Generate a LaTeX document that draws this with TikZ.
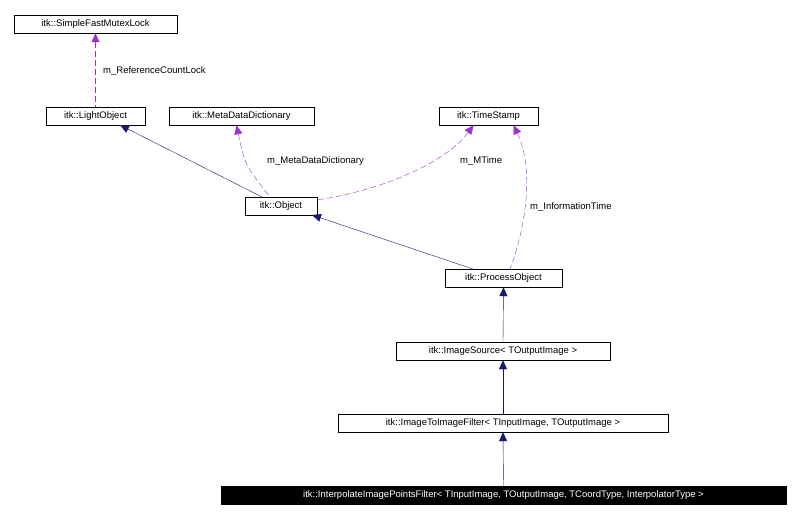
\documentclass[tikz,border=0pt]{standalone}
\usepackage{fontspec}
\setmainfont{Liberation Sans}
\usetikzlibrary{arrows.meta}
\definecolor{navy}{RGB}{25,25,112}
\definecolor{purp}{RGB}{153,50,204}
\begin{document}
\begin{tikzpicture}[x=1pt,y=-1pt,
  box/.style={draw,fill=white,inner sep=0pt,minimum height=18pt,font=\fontsize{9.5}{11}\selectfont},
  inh/.style={navy,{Triangle[open,length=9pt,width=8pt,fill=navy]}-},
  use/.style={purp,dash pattern=on 6pt off 3pt,{Triangle[length=9pt,width=8pt]}-},
  lbl/.style={font=\fontsize{9.5}{11}\selectfont,anchor=west,inner sep=0pt}]
\useasboundingbox (0,0) rectangle (800,518);
\node[box,minimum width=163pt] (mut) at (95.5,24) {itk::SimpleFastMutexLock};
\node[box,minimum width=99pt] (lo) at (95.5,116) {itk::LightObject};
\node[box,minimum width=145pt] (md) at (241.5,116) {itk::MetaDataDictionary};
\node[box,minimum width=99pt] (ts) at (488.5,116) {itk::TimeStamp};
\node[box,minimum width=72pt] (obj) at (281,206) {itk::Object};
\node[box,minimum width=117pt] (po) at (503.5,278) {itk::ProcessObject};
\node[box,minimum width=214pt] (is) at (503,351) {itk::ImageSource< TOutputImage >};
\node[box,minimum width=330pt] (iif) at (503,423) {itk::ImageToImageFilter< TInputImage, TOutputImage >};
\node[box,fill=black,text=white,minimum width=565pt] (ip) at (503.5,495) {itk::InterpolateImagePointsFilter< TInputImage, TOutputImage, TCoordType, InterpolatorType >};
\draw[use] (mut.south) -- (lo.north);
\node[lbl] (l1) at (103,71) {m\_ReferenceCountLock};
\draw[inh] (120,125) -- (262,197);
\draw[use] (md.south) ++(-5,0) coordinate (mda) (mda) .. controls (245,165) .. (270,197);
\draw[use] (ts.south) ++(-15,0) coordinate (tsa) (tsa) .. controls (440,170) and (360,195) .. (315,200);
\node[lbl] (l2) at (267,161) {m\_MetaDataDictionary};
\node[lbl] (l3) at (460,161) {m\_MTime};
\draw[use] (ts.south) ++(25,0) coordinate (tsb) (tsb) .. controls (535,170) and (525,230) .. (510,269);
\node[lbl] (l4) at (530,207) {m\_InformationTime};
\draw[inh] (312,215) -- (473,269);
\draw[inh] (po.south) -- (is.north);
\draw[inh] (is.south) -- (iif.north);
\draw[inh] (iif.south) -- (ip.north);
\end{tikzpicture}
\end{document}
